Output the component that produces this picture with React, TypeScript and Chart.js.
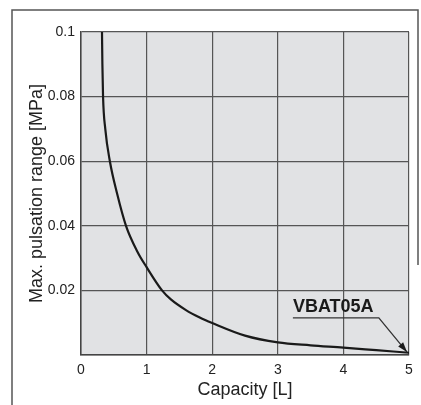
import React, { useEffect, useRef } from "react";
import { Chart, registerables } from "chart.js";

Chart.register(...registerables);

// Curve: capacity [L] vs max pulsation range [MPa]
const capacity = [0.32, 0.326, 0.336, 0.37, 0.44, 0.55, 0.686, 0.86, 1.0, 1.235, 1.37, 1.6, 1.81, 2.0, 2.5, 3.0, 3.5, 4.0, 4.5, 5.0];
const pulsation = [0.1, 0.09, 0.08, 0.07, 0.06, 0.05, 0.04, 0.032, 0.0272, 0.02, 0.0172, 0.0139, 0.0116, 0.0099, 0.006, 0.0039, 0.003, 0.0023, 0.0015, 0.0007];

const xTicks = [0, 1, 2, 3, 4, 5];
const yTicks = [0, 0.02, 0.04, 0.06, 0.08, 0.1];

const labelText = "VBAT05A";
// annotation anchor points in data units: [capacity, pulsation]
const labelAt = [3.23, 0.0133];
const underlineFrom = [3.23, 0.0115];
const underlineTo = [4.54, 0.0115];
const arrowTip = [4.97, 0.0009];

const FONT = "'Liberation Sans', Arial, Helvetica, sans-serif";

export default function App() {
  const ref = useRef<HTMLCanvasElement>(null);

  useEffect(() => {
    if (!ref.current) return;
    const bgPlugin = {
      id: "bg",
      beforeDraw(chart: any) {
        const { ctx, chartArea } = chart;
        ctx.save();
        ctx.fillStyle = "#ffffff";
        ctx.fillRect(0, 0, chart.width, chart.height);
        ctx.fillStyle = "#e1e2e4";
        ctx.fillRect(chartArea.left, chartArea.top, chartArea.right - chartArea.left, chartArea.bottom - chartArea.top);
        // outer frame
        ctx.strokeStyle = "#555";
        ctx.lineWidth = 1.5;
        ctx.beginPath();
        ctx.moveTo(12, chart.height);
        ctx.lineTo(12, 10);
        ctx.lineTo(418, 10);
        ctx.lineTo(418, 265);
        ctx.stroke();
        ctx.restore();
      },
    };
    const annPlugin = {
      id: "ann",
      afterDatasetsDraw(chart: any) {
        const { ctx } = chart;
        const xs = chart.scales.x;
        const ys = chart.scales.y;
        const px = (p: number[]) => [xs.getPixelForValue(p[0]), ys.getPixelForValue(p[1])];
        ctx.save();
        ctx.fillStyle = "#1a1a1a";
        ctx.font = `bold 18px ${FONT}`;
        ctx.textBaseline = "alphabetic";
        const [lx, ly] = px(labelAt);
        ctx.fillText(labelText, lx, ly);
        const [ux1, uy] = px(underlineFrom);
        const [ux2] = px(underlineTo);
        const [ax, ay] = px(arrowTip);
        ctx.strokeStyle = "#333";
        ctx.lineWidth = 1.3;
        ctx.beginPath();
        ctx.moveTo(ux1, uy);
        ctx.lineTo(ux2, uy);
        ctx.lineTo(ax, ay);
        ctx.stroke();
        const ang = Math.atan2(ay - uy, ax - ux2);
        const len = 10, w = 3.2;
        ctx.beginPath();
        ctx.moveTo(ax, ay);
        ctx.lineTo(ax - len * Math.cos(ang) + w * Math.sin(ang), ay - len * Math.sin(ang) - w * Math.cos(ang));
        ctx.lineTo(ax - len * Math.cos(ang) - w * Math.sin(ang), ay - len * Math.sin(ang) + w * Math.cos(ang));
        ctx.closePath();
        ctx.fill();
        ctx.restore();
      },
    };

    const chart = new Chart(ref.current, {
      type: "line",
      data: {
        datasets: [
          {
            data: capacity.map((c, i) => ({ x: c, y: pulsation[i] })),
            borderColor: "#1a1a1a",
            borderWidth: 2.2,
            pointRadius: 0,
            cubicInterpolationMode: "monotone",
            fill: false,
          },
        ],
      },
      options: {
        animation: false,
        responsive: false,
        devicePixelRatio: 1,
        layout: { padding: { left: 0, right: 12, top: 32, bottom: 0 } },
        plugins: { legend: { display: false }, tooltip: { enabled: false } },
        scales: {
          x: {
            type: "linear",
            min: xTicks[0],
            max: xTicks[xTicks.length - 1],
            afterBuildTicks: (s: any) => { s.ticks = xTicks.map((v) => ({ value: v })); },
            afterFit: (s: any) => { s.height = 50; },
            ticks: { color: "#222", font: { family: FONT, size: 14 }, padding: 7, maxRotation: 0 },
            grid: { color: "#555", lineWidth: 1.2, drawTicks: false },
            border: { display: true, color: "#444", width: 1.5 },
            title: { display: true, text: "Capacity [L]", color: "#222", font: { family: FONT, size: 18 }, padding: { top: 0, bottom: 4 } },
          },
          y: {
            type: "linear",
            min: yTicks[0],
            max: yTicks[yTicks.length - 1],
            afterBuildTicks: (s: any) => { s.ticks = yTicks.map((v) => ({ value: v })); },
            afterFit: (s: any) => { s.width = 81; },
            ticks: {
              color: "#222",
              font: { family: FONT, size: 14 },
              padding: 6,
              callback: (v: any) => (v === 0 ? "" : String(Math.round(v * 100) / 100)),
            },
            grid: { color: "#555", lineWidth: 1.2, drawTicks: false },
            border: { display: true, color: "#444", width: 1.5 },
            title: { display: true, text: "Max. pulsation range [MPa]", color: "#222", font: { family: FONT, size: 18 }, padding: { top: 26, bottom: 0 } },
          },
        },
      },
      plugins: [bgPlugin, annPlugin],
    } as any);
    return () => chart.destroy();
  }, []);

  return (
    <div style={{ position: "absolute", left: 0, top: 0, width: 421, height: 405 }}>
      <canvas ref={ref} width={421} height={405} style={{ width: 421, height: 405, display: "block" }} />
    </div>
  );
}
